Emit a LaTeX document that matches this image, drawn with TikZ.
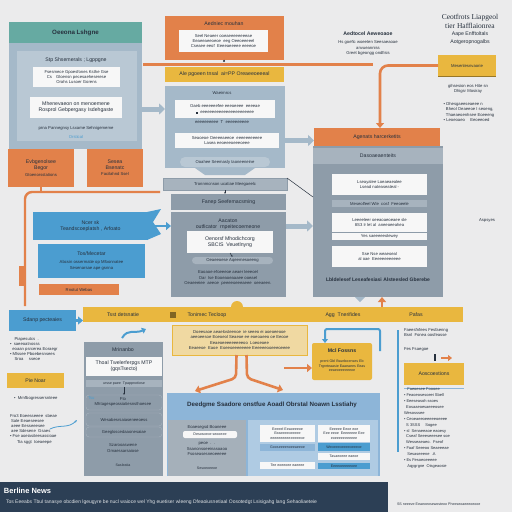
\documentclass[tikz,border=0pt]{standalone}
\usepackage{fontspec}
\setmainfont{Liberation Sans}
\newfontfamily\serifF{Liberation Serif}
\usetikzlibrary{arrows.meta}
\definecolor{bgc}{HTML}{EBEBEC}
\definecolor{cteal}{HTML}{66AAA2}
\definecolor{cslate}{HTML}{A5B9C9}
\definecolor{cslatel}{HTML}{B9C8D4}
\definecolor{corange}{HTML}{E2814A}
\definecolor{cyellow}{HTML}{E9B73F}
\definecolor{cyell2}{HTML}{F0D9A2}
\definecolor{cblue}{HTML}{4B9DD0}
\definecolor{cblue2}{HTML}{8DB5D8}
\definecolor{cblue3}{HTML}{AFCBE3}
\definecolor{cgray}{HTML}{8E9CA9}
\definecolor{cgrayl}{HTML}{A7B3BE}
\definecolor{cnavy}{HTML}{2C3F55}
\definecolor{ctext}{HTML}{26303D}
\definecolor{cwhite}{HTML}{F7F7F7}
\newcommand\ftS{\fontsize{3.6}{4.6}\selectfont}
\newcommand\ftA{\fontsize{4.2}{5.2}\selectfont}
\newcommand\ftB{\fontsize{5.2}{6.2}\selectfont}
\newcommand\ftC{\fontsize{6.2}{7.2}\selectfont\bfseries}
\begin{document}
\begin{tikzpicture}[x=1pt,y=-1pt,
  rb/.style={anchor=north west,inner sep=0pt,outer sep=0pt,align=center,text=ctext,font=\ftA},
  tx/.style={inner sep=0pt,outer sep=0pt,align=center,text=ctext,font=\ftA},
  oarr/.style={draw=corange,line width=2.6pt,-{Triangle[length=5pt,width=8pt]}},
  barr/.style={draw=cblue,line width=2.4pt,-{Triangle[length=5pt,width=8pt]}},
  sarr/.style={draw=cslate,line width=5pt,-{Triangle[length=6pt,width=11pt]}},
]
\useasboundingbox (0,0) rectangle (512,512);
\fill[bgc] (0,0) rectangle (512,512);

% ===== top-left block
\node[rb,fill=cteal,minimum width=133pt,minimum height=21pt,font=\ftC] (tlh) at (9,22) {Oeeona Lshgne};
\node[rb,fill=cslate,minimum width=133pt,minimum height=106pt] (tlp) at (9,43) {};
\node[rb,fill=cslatel,minimum width=120pt,minimum height=90pt] (tlpi) at (17,51) {};
\node[tx,font=\ftB] (tlt) at (76,60) {Stp Shsemerals ; Lgppgne};
\node[rb,fill=cwhite,minimum width=87pt,minimum height=20pt] (tlw1) at (33,67) {Fsesmece Gpoesfones Ksthe Gse\\Cs\quad Gloensn pecesaeheserese\\Orahs Lusoer Gorens};
\node[rb,fill=cwhite,minimum width=92pt,minimum height=21pt,font=\ftB] (tlw2) at (30,97) {Mhenevaeon on menoemene\\Rosprol Gebpergasy Isdehgaste};
\node[tx] (tlt2) at (76,128) {prna Pannegnsy Lsxame Sehnigememe};
\node[tx,text=cblue] (tlt3) at (76,137) {Orstical};

% orange boxes left
\node[rb,fill=corange,minimum width=66pt,minimum height=38pt,font=\ftB] (ob1) at (8,149) {Evbgenolsee\\Begor\\\ftA Gtoenorsstations};
\node[rb,fill=corange,minimum width=56pt,minimum height=38pt,font=\ftB] (ob2) at (87,149) {Sesea\\Bsenatc\\\ftA Facilahnd Ssel};
\coordinate (oj) at (41,192);
\coordinate (oe1) at (160,192);
\coordinate (oe2) at (25,306);
\draw[corange,line width=2.4pt] (ob1.south) -- (oj);
\draw[corange,line width=2.4pt,rounded corners=7pt] (oe1) -- (25,192) -- (oe2);
\fill[corange] (19,266) rectangle (24,286);

% blue boxes left
\node[rb,fill=cblue,minimum width=115pt,minimum height=28pt,font=\ftB] (bb1) at (33,212) {Ncer sk\\Teandscoeplatsh , Arfoato};
\fill[cblue] (147,212) -- (161,209) -- (153,222) -- (161,234) -- (147,240) -- cycle;
\node[rb,fill=cblue,minimum width=107pt,minimum height=34pt,font=\ftB] (bb2) at (38,244) {Tos/Mecetar\\[2pt]\ftA Abcsin ossermatie op Mfoonnatee\\\ftA Sesenarsae ape gsnna};
\node[rb,fill=corange,minimum width=80pt,minimum height=11pt,font=\ftA] (ob3) at (39,284) {Rnotut Webas};

% ===== top centre
\node[rb,fill=corange,minimum width=119pt,minimum height=44pt] (tcb) at (165,16) {};
\node[tx,font=\ftB] (tcbt) at (224,24) {Aedniec mouhan};
\node[rb,fill=cwhite,minimum width=89pt,minimum height=22pt] (tcw) at (179,30) {Seel Neaeer ooeaeeeeeeeeae\\Eeaeeaeeoeoe \ eeg Oeeoeeeeel\\Cseaee eeof \ Eeeeaeeeee eeeeoe};
\coordinate (ol1) at (143,64.5);
\coordinate (ol2) at (373,64.5);
\draw[corange,line width=3.5pt] (ol1) -- (ol2);
\draw[ctext,line width=0.5pt] (tcb.south) -- (224,61);
\fill[ctext] (224,61) circle (1.1pt);
\node[rb,fill=cyellow,minimum width=119pt,minimum height=15pt,font=\ftB] (tcy) at (165,67) {Ale pgoeen tnsal \ ai=PP Oreaeeoeeeal};

\node[rb,fill=cslate,minimum width=120pt,minimum height=82pt] (tcp) at (165,86) {};
\node[tx] (tcpt) at (222,93) {Waeirnrcs};
\node[rb,fill=cwhite,minimum width=100pt,minimum height=18pt] (tcw1) at (175,100) {Oaeb eeeeeeefee eeeoeeee\ \ eeeeae\\[1pt]{\rule{2pt}{2pt}} \ eeeeeeeeeeeeeeeeeeeeeee};
\node[tx] (tcpt2) at (222,122) {eeeeeeeeee \ T \ eeeeeeeeee};
\node[rb,fill=cwhite,minimum width=104pt,minimum height=15pt] (tcw2) at (175,133) {Seaoeoe Oeeeeaeeoe \ eeeeeeeeeee\\Lasea eeoeeeoeeeoeee};
\node[rb,fill=cslatel,rounded corners=5pt,minimum width=90pt,minimum height=10pt] (tcpill) at (180,157) {Ooahee Seemasly taoneeneine};
\fill[cslate] (195,168) -- (255,168) -- (245,175) -- (205,175) -- cycle;
\draw[sarr] (tlp.east |- tcw1.center) -- (tcp.west |- tcw1.center);

% centre stack
\node[rb,fill=cgrayl,draw=cgray,line width=0.6pt,minimum width=124pt,minimum height=12pt] (tbar) at (163,178) {Tronnmcnson ucatiae Meegaeelc};
\node[rb,fill=cgray,minimum width=115pt,minimum height=16pt,font=\ftB] (fan) at (171,194) {Fanep Seefemacsming};
\draw[ctext,line width=0.5pt,-{Stealth[length=2pt]}] (tbar.south) -- (tbar.south |- fan.north);
\node[rb,fill=cgray,minimum width=115pt,minimum height=85pt] (cpan) at (171,212) {};
\node[tx,font=\ftB] (cpt) at (228,224) {Aacaton\\outficator \ rnpeitecoemeone};
\node[rb,fill=cwhite,minimum width=86pt,minimum height=22pt,font=\ftB] (cw) at (187,231) {Oenorsf Mhodichcorg\\SBCIS \ Veuetlnyng};
\node[rb,fill=cgrayl,rounded corners=3.5pt,minimum width=81pt,minimum height=7pt] (cpill) at (192,257) {Oeaeeoese Aqeemesoeeng};
\draw[ctext,line width=0.5pt,-{Stealth[length=2pt]}] (cw.south) -- (cpill.north);
\node[tx] (cpt2) at (228,278) {Eaoaoe efoeeeoe aeaer leeeoel\\Oar \ lse Eooeaoeaaaee ooeael\\Oeaeeeiee \ aeeoe \ peeeeoeeeaeee \ oeeaeen.};
\draw[barr] (bb1.east) -- (bb1.east -| cpan.west);

% ===== right block
\node[rb,fill=corange,minimum width=126pt,minimum height=18pt,font=\ftB] (rorg) at (314,128) {Agenats harcerketits};
\node[rb,fill=cgray,minimum width=130pt,minimum height=151pt] (rpan) at (313,146) {};
\node[rb,fill=cgrayl,minimum width=130pt,minimum height=16pt,font=\ftB] (rhd) at (313,148) {Dasoaeaenteits};
\node[rb,fill=cwhite,minimum width=95pt,minimum height=21pt] (rw1) at (332,174) {Lseayalee Loeaeaealee\\Lsead nateaseateal -};
\node[rb,fill=cgrayl,minimum width=95pt,minimum height=7pt] (rw2) at (332,200) {Meseolfeel Wle \ cosf \ Feeoeele};
\node[rb,fill=cwhite,minimum width=95pt,minimum height=19pt] (rw3) at (332,213) {Leeeeleer oeeaoaeoeaee sle\\8S3 Ir let al \ aneeoeeahea};
\node[rb,fill=cwhite,minimum width=95pt,minimum height=7pt] (rw4) at (332,233) {Yes saeeeeeolewey};
\node[rb,fill=cwhite,minimum width=95pt,minimum height=21pt] (rw5) at (332,246) {Sse Nse weaeoeal\\al oae \ Eeeeeeeeeeee};
\node[tx,font=\fontsize{5}{6}\selectfont\bfseries] (rbt) at (378,280) {Lbldelesef Leseafesiasi Alsteesled Gberebe};
\draw[ctext,line width=0.5pt] (tbar.north east) -- ([yshift=-51pt]rpan.north west);
\draw[sarr] (cpan.east |- bb1.east) -- (rpan.west |- bb1.east);
\draw[sarr] (tcp.east |- tcw2.center) -- (rorg.west |- tcw2.center);

% right top texts
\node[tx,font=\ftB\bfseries] (rt1) at (368,34) {Aedtocel Aeweoaoe};
\node[tx] (rt2) at (368,48) {Hs goefic woeeten Seesaeaoae\\anvueanniss\\Greet bgeongg ondfisis};
\node[tx,font=\serifF\fontsize{7.5}{9}\selectfont] (rt3) at (470,21.5) {Ceotfrots Liapgeol\\tier Hafflaionrea};
\node[tx,font=\fontsize{5.2}{8}\selectfont] (rt4) at (470,38) {Aape Enfftoltals\\Aotgeropnogalbs};
\node[rb,fill=cyellow,minimum width=58pt,minimum height=21pt] (ryel) at (438,55) {Mesenlesnvaorie};
\draw[cyellow!65!black,line width=1pt] (ryel.south west) -- (ryel.south east);
\draw[oarr,rounded corners=8pt] (ryel.west) -- (380,65.5) -- (rorg.north -| 380,0);
\node[tx] (rt5) at (468,89) {gihsesion eos Hite sn\\Dhigsr Mosiray};
\node[tx,align=left] (rt6) at (469,112) {\textbullet\ Dhesgaeeseaeee n\\\ \ Bheol Oeaeeoe I seoeng,\\\ \ Thaeaeoenhsee Eoeeeng\\\textbullet\ Leoeoaeo \quad Eeoeeoed};
\node[tx] (rt7) at (487,220) {Aspsyes};

% ===== bottom band
\node[rb,fill=cblue,minimum width=67pt,minimum height=21pt,font=\ftB] (bl) at (9,310) {Sdanp pecteaies};
\node[rb,fill=cyellow,minimum width=380pt,minimum height=15pt] (yband) at (83,307) {};
\draw[barr] (bl.east) -- (yband.west |- bl.east);
\node[tx,font=\ftB] (yb1) at (123,315) {Tsst detsnatie};
\node[tx,font=\ftB] (yb2) at (207,315) {Tonimec Tecloop};
\node[tx,font=\ftB] (yb3) at (343,315) {Agg \ Tnerifides};
\node[tx,font=\ftB] (yb4) at (416,315) {Pafas};
\fill[cyellow!55!black] (170,312) rectangle (176,318);
\fill[cyellow] (231,307) arc (180:0:6pt) -- cycle;
\coordinate (bc1) at (122,338);
\coordinate (bc2) at (146,329);
\draw[cblue,line width=2pt,-{Triangle[length=4pt,width=6pt]}] (bc1) .. controls (128,328) and (135,334) .. (bc2);
\draw[oarr] (yband.north -| 382,0) -- (rpan.south -| 382,0);
\fill[cslate] (355,297) -- (365,297) -- (360,302) -- cycle;

\node[rb,fill=cyell2,draw=cyellow,line width=0.6pt,minimum width=135pt,minimum height=30pt] (yt) at (172,325) {Doeesaoe aeaelosteenoe \ ie seeeo ei aoeoeeooe\\aeeoeesoe Eoeoeol Seaeoe ee eoeoaeeo oe Eeooe\\Eeaeoeeeeeeeeeoo \ Loeoeoee\\Eeaeeoe \ Eaoe \ Eoeeoeeeeeeee Eeeeeeooeeeoeeee};
\coordinate (oa1) at (195,391);
\coordinate (oa2) at (283,390);
\coordinate (oa3) at (284,368);
\draw[oarr,rounded corners=4pt] ([xshift=-3pt]yt.south) -- (236,378) -- (oa1);
\draw[oarr,rounded corners=4pt] ([xshift=7pt]yt.south) -- (247,378) -- (oa2);

\node[rb,fill=cyellow,rounded corners=2pt,minimum width=60pt,minimum height=37pt] (mcl) at (312,343) {};
\draw[oarr] (oa3) -- (mcl.west |- oa3);
\node[tx,font=\ftB\bfseries] (mclt) at (342,351) {Mcl Fossns};
\node[tx,font=\ftS] (mclt2) at (342,366) {prent Gbl Bsunboenses Eb\\Trgnrteaasie Eaaeaees Eeas\\eeaeoeeeeeeoe};
\coordinate (bh) at (380,351);
\draw[cblue,line width=2pt,-{Triangle[length=4pt,width=6pt]},rounded corners=2pt] (bh) -- (380,329) -- (325,329) -- (mcl.north -| 325,0);

% bottom-left grey panel
\node[rb,fill=cgray,minimum width=79pt,minimum height=134pt] (lg) at (84,342) {};
\node[tx,font=\ftB] (lgt) at (123,350) {Mrinanbo};
\node[rb,fill=cwhite,minimum width=76pt,minimum height=19pt,font=\ftB] (lgw) at (86,357) {Thoal Twelerferpgs MTP\\(gqsTsecto)};
\node[rb,fill=cgrayl,minimum width=76pt,minimum height=7pt,font=\ftS] (lgb) at (86,380) {ursse paee \ Tpappnotiose};
\node[rb,draw=cgrayl,rounded corners=3pt,minimum width=76pt,minimum height=15pt] (lgr1) at (86,395) {};
\draw[ctext,line width=0.4pt,-{Stealth[length=2pt]}] (lgb.south) -- (lgr1.north);
\node[tx,anchor=west,text=cblue] (lgr1a) at (88,398) {Tsu};
\node[tx] (lgr1b) at (123,402) {Fto\\Mhtagespeossiatiesnsthoesee};
\node[rb,draw=cgrayl,rounded corners=3pt,minimum width=76pt,minimum height=13pt] (lgr2) at (86,413) {Wesabesrsaiaseneeoess};
\node[rb,draw=cgrayl,rounded corners=3pt,minimum width=76pt,minimum height=10pt] (lgr3) at (86,427) {Geegloscedaaonesaiae};
\node[tx] (lgt2) at (123,448) {Szarooaswene\\Omaessarsaiose};
\node[tx,font=\ftS] (lgt3) at (123,465) {Sasleatia};

% blue panel bottom
\node[rb,fill=cblue2,minimum width=213pt,minimum height=83pt] (bp) at (167,393) {};
\node[tx,font=\ftC] (bpt) at (272,405) {Deedgme Ssadore onstfue Aoadl Obrstal Noawn Lsstiahy};
\node[rb,fill=cgray!80!white,minimum width=78pt,minimum height=56pt] (bpl) at (168,420) {};
\node[rb,fill=cblue3,minimum width=130pt,minimum height=56pt] (bpr) at (248,420) {};
\node[tx] (bplt) at (207,427) {Eoaesegsd Boaneee};
\node[rb,fill=cwhite,rounded corners=2pt,minimum width=54pt,minimum height=7pt,font=\ftS] (bplw) at (183,431) {Desosoeoe seooeee};
\node[tx] (bplt2) at (207,449) {peoe \ . \ .\\Ssanonsoeeinasoaoo\\Fsoseasesneoeeeee};
\node[tx,font=\ftS] (bplt3) at (207,468) {Sesoeoeeoe};
\node[rb,fill=cwhite,minimum width=55pt,minimum height=17pt,font=\ftS] (bprw1) at (260,425) {Eeeeel Eeaoeeeoe\\Eeaeeeeoeeeee\\eeeeeeeeeeeeeeeoe};
\node[rb,fill=cblue2,minimum width=55pt,minimum height=7pt,font=\ftS] (bprb1) at (260,444) {Gooseeeenoeeaeeoe};
\node[rb,fill=cwhite,minimum width=55pt,minimum height=7pt,font=\ftS] (bprw2) at (260,462) {Tee eoeeoee eaeeee};
\node[rb,fill=cwhite,minimum width=52pt,minimum height=17pt,font=\ftS] (bprw3) at (318,425) {Eeeeee Eeoe eoe\\Eee eeoe \ Eeeeeeee Eee\\eoeeeeeeeeeee};
\node[rb,fill=cblue,minimum width=52pt,minimum height=8pt,font=\ftS] (bprb2) at (318,443) {Weoeeeoeeeeoeeeoe};
\node[rb,fill=cwhite,minimum width=52pt,minimum height=7pt,font=\ftS] (bprw4) at (318,453) {Tasaeoeee eaeoe};
\node[rb,fill=cblue,minimum width=52pt,minimum height=6pt,font=\ftS] (bprb3) at (318,463) {Eeeeoeeeeeoee};

% right column
\draw[cblue,line width=1.5pt] (398,330) -- (398,452);
\node[tx,align=left,anchor=north west] (rc1) at (404,328) {Faeesfnfees Fesfaenng\\Bsnl \ Fonea oosfeasse};
\node[tx,anchor=west] (rc2) at (404,349) {Fes Fsaegoe};
\fill[ctext] (434,354) rectangle (436,361);
\coordinate (rca) at (441,358);
\coordinate (rcb) at (452,358);
\draw[corange,line width=1.4pt,-{Triangle[length=4pt,width=6pt]}] (rca) -- (rcb);
\node[rb,fill=cyellow,minimum width=60pt,minimum height=22pt,font=\ftB] (ryb) at (404,363) {Aoscoextions};
\draw[cblue2,line width=0.8pt] ([yshift=-3pt]ryb.south west) -- ([yshift=-3pt]ryb.south east);
\node[tx,align=left,anchor=north west,font=\fontsize{4}{5.9}\selectfont] (rc3) at (404,388) {\ \ \ Faeoesee Foooee\\\textbullet\ Feaoeosesoeei Sbell\\\textbullet\ Eeeseasoh ssoes\\\ \ Eosaaeoesaeeeosee\\Wesosssee\\\textbullet\ Ceoeaeeoeeeeeoeeee\\\ \ S 3SSS \quad Sogee\\\textbullet\ sl \ Senaeeaoe eaoesy\\\ \ Cseaf Seeeseeesee soe\\\ \ Wesseaeaeo. \ Fseof\\\textbullet\ Faaf Seeeoo Seaeeeae\\\ \ \ Sesaseeene \ .A\\\textbullet\ Es Fesoeoeeeee\\\ \ \ Aqygrgne \ Oisgeaosie};

% left texts
\node[tx,align=left,anchor=north west] (lt1) at (10,337) {\ \ \ \ Piapesutcs \ .\\\textbullet\ \ saeeoatnosss\\\ \ eoaan psrcerea Eoraegr\\\textbullet\ Mlssee Pboebesnsees\\\ \ \ \ Sroa \quad sseoe};
\node[rb,fill=cyellow,minimum width=57pt,minimum height=15pt,font=\ftB] (pie) at (7,373) {Pie Noar};
\node[tx,anchor=west] (lt2) at (14,398) {\textbullet\ \ Mrnfbogressersnteee};
\node[tx,align=left,anchor=north west] (lt3) at (10,414) {Fro3 Eoeesseeee \ sbeae\\\ Sale Eeaeseesee\\\ aeee Eesseeesee\\\ aee Sdesene \ Gsaes\\\textbullet\ Fse aoeiasiteesassioae\\\ \ \ \ \ \ Tia sggt \ toeaeepe};
\coordinate (lsq1) at (50,429);
\coordinate (lsq2) at (77,420);
\draw[cblue,line width=0.8pt,-{Stealth[length=3pt]}] (lsq1) .. controls (60,424) and (68,429) .. (lsq2);

% navy footer
\node[rb,fill=cnavy,minimum width=388pt,minimum height=30pt] (nav) at (0,482) {};
\node[tx,anchor=west,text=white,font=\fontsize{7.5}{8}\selectfont\bfseries] (navt) at (4,491) {Berline News};
\node[tx,anchor=west,text=white!85!cnavy,font=\fontsize{5}{6}\selectfont] (navt2) at (6,502) {Tos Eeeabs Tbul tanasye obcdien lgeugyre be nucl waioce wel Yhg euetiser wleeng Dfeaoiusnetiaal Oosotedgt Lsisigahg lang Sehaoliaeteie};
\node[tx,anchor=west,font=\ftS] (brt) at (397,504) {SS neeeve Eeaeoeosewosteoo Pheeseoaeeeoeooe};
\end{tikzpicture}
\end{document}
